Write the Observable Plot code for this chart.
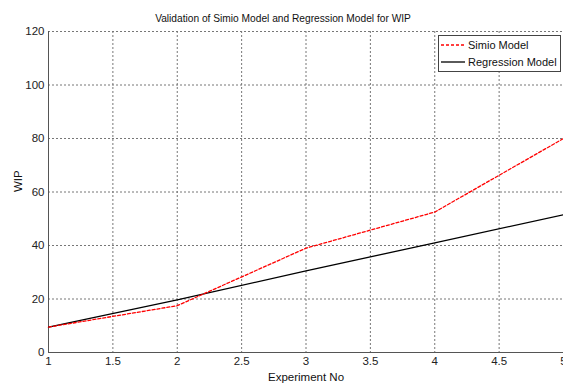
<!DOCTYPE html>
<html>
<head>
<meta charset="utf-8">
<script src="https://cdn.jsdelivr.net/npm/d3@7"></script>
<script src="https://cdn.jsdelivr.net/npm/@observablehq/plot@0.6"></script>
<style>
  html, body { margin: 0; padding: 0; background: #fff; }
  #wrap { position: relative; width: 563px; height: 383px; overflow: hidden; font-family: "Liberation Sans", Arial, sans-serif; }
  #legend { position: absolute; left: 438px; top: 35px; width: 121px; height: 35px; border: 1px solid #444; background: #fff; font-size: 11px; color: #111; }
  .row { position: absolute; left: 2px; height: 16px; display: flex; align-items: center; white-space: nowrap; }
  .row svg { margin-right: 3px; flex: none; }
</style>
</head>
<body>
<div id="wrap"></div>
<script>
const experiments = [1, 2, 3, 4, 5];
const simio = [9.5, 17.5, 39, 52.5, 80];
const regression = [9.5, 19.7, 30.5, 41, 51.5];
const xTicks = [1, 1.5, 2, 2.5, 3, 3.5, 4, 4.5, 5];
const yTicks = [0, 20, 40, 60, 80, 100, 120];
const seriesNames = ["Simio Model", "Regression Model"];
const titleText = "Validation of Simio Model and Regression Model for WIP";

const simioData = experiments.map((x, i) => ({x, y: simio[i]}));
const regData = experiments.map((x, i) => ({x, y: regression[i]}));

const chart = Plot.plot({
  width: 563,
  height: 383,
  marginTop: 31,
  marginBottom: 31,
  marginLeft: 48,
  marginRight: 0,
  style: {fontFamily: "Liberation Sans, Arial, sans-serif", fontSize: "11.5px", color: "#222", background: "#fff"},
  x: {domain: [1, 5]},
  y: {domain: [0, 120]},
  marks: [
    Plot.gridX(xTicks, {stroke: "#777", strokeOpacity: 1, strokeDasharray: "2,2"}),
    Plot.gridY(yTicks, {stroke: "#777", strokeOpacity: 1, strokeDasharray: "2,2"}),
    Plot.axisX(xTicks, {tickSize: 0, tickPadding: 4, label: null, fontSize: 11.5, tickFormat: d => String(d)}),
    Plot.axisY(yTicks, {tickSize: 0, tickPadding: 4, label: null, fontSize: 11.5}),
    Plot.ruleX([1], {stroke: "#555"}),
    Plot.ruleY([0], {stroke: "#555"}),
    Plot.line(regData, {x: "x", y: "y", stroke: "#000", strokeWidth: 1.3}),
    Plot.line(simioData, {x: "x", y: "y", stroke: "#ff0000", strokeWidth: 1.3, strokeDasharray: "3,2"}),
    Plot.text([titleText], {frameAnchor: "top", dx: -23, dy: -13, lineAnchor: "middle", fontSize: 10.2, fill: "#111"}),
    Plot.text(["Experiment No"], {frameAnchor: "bottom", dy: 25, lineAnchor: "middle", fontSize: 11.5, fill: "#111"}),
    Plot.text(["WIP"], {frameAnchor: "left", dx: -30, rotate: -90, lineAnchor: "middle", fontSize: 11.5, fill: "#111"})
  ]
});
const wrap = document.getElementById("wrap");
wrap.appendChild(chart);

const legend = document.createElement("div");
legend.id = "legend";
const styles = [{stroke: "#ff0000", dash: "3,2"}, {stroke: "#000", dash: null}];
seriesNames.forEach((name, i) => {
  const row = document.createElement("div");
  row.className = "row";
  row.style.top = (i === 0 ? 1 : 18) + "px";
  const s = styles[i];
  row.innerHTML = `<svg width="24" height="4"><line x1="0" x2="24" y1="2" y2="2" stroke="${s.stroke}" stroke-width="1.3" ${s.dash ? `stroke-dasharray="${s.dash}"` : ""}/></svg><span>${name}</span>`;
  legend.appendChild(row);
});
wrap.appendChild(legend);
</script>
</body>
</html>
